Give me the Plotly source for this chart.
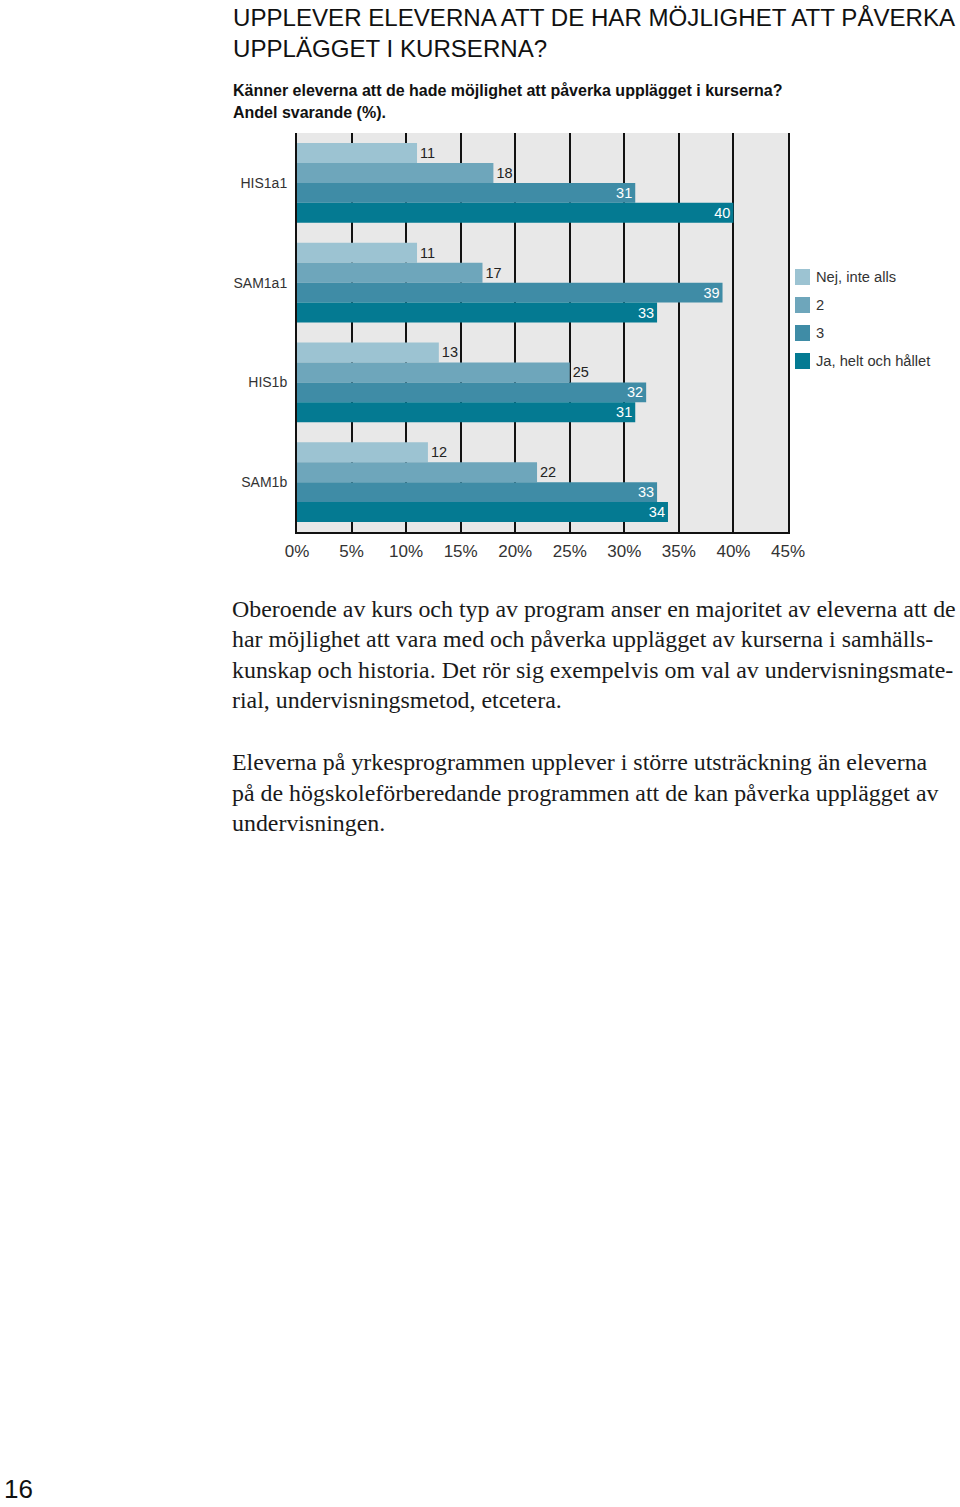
import plotly.graph_objects as go

categories = ["HIS1a1", "SAM1a1", "HIS1b", "SAM1b"]
series_names = ["Nej, inte alls", "2", "3", "Ja, helt och hållet"]
nej = [11, 11, 13, 12]
s2 = [18, 17, 25, 22]
s3 = [31, 39, 32, 33]
ja = [40, 33, 31, 34]
tick_vals = [0, 5, 10, 15, 20, 25, 30, 35, 40, 45]
tick_text = ["0%", "5%", "10%", "15%", "20%", "25%", "30%", "35%", "40%", "45%"]

colors = ["#9cc3d2", "#6ea6bb", "#3f8ca6", "#047a92"]
series_values = [nej, s2, s3, ja]

W, H = 960, 1507
L, R, T, B = 297, 788, 133, 532

def px(x):
    return (x - L) / (R - L)

def py(y):
    return (B - y) / (B - T)

SANS = "Liberation Sans, Arial, sans-serif"
SERIF = "Liberation Serif, Times New Roman, serif"

fig = go.Figure()
for i, (name, vals) in enumerate(zip(series_names, series_values)):
    outside = i < 2
    fig.add_trace(go.Bar(
        y=categories, x=vals, orientation="h", name=name,
        marker=dict(color=colors[i], line=dict(width=0)),
        text=[str(v) for v in vals],
        textposition="outside" if outside else "inside",
        insidetextanchor="end",
        textangle=0,
        constraintext="none",
        textfont=dict(family=SANS, size=14.5, color="#222222" if outside else "#ffffff"),
        cliponaxis=False,
        showlegend=False,
    ))

fig.update_layout(
    width=W, height=H,
    margin=dict(l=L, r=W - R, t=T, b=H - B, pad=0),
    paper_bgcolor="white", plot_bgcolor="#e8e8e8",
    barmode="group", bargap=0.2, bargroupgap=0,
    xaxis=dict(range=[0, 45], tickvals=tick_vals, ticktext=tick_text,
               showgrid=True, gridcolor="#111111", gridwidth=2,
               zeroline=False, showline=True, linecolor="#111111", linewidth=2,
               ticks="", ticklabelstandoff=3,
               tickfont=dict(family=SANS, size=17, color="#333333"), fixedrange=True),
    yaxis=dict(autorange="reversed", showgrid=False, zeroline=False,
               showline=True, linecolor="#111111", linewidth=2, mirror=True,
               ticks="", ticklabelstandoff=5,
               tickfont=dict(family=SANS, size=14, color="#333333")),
    showlegend=False,
)

anns = []
def text(x, y, s, size, family, color="#111111", bold=False):
    if bold:
        s = "<b>" + s + "</b>"
    anns.append(dict(x=px(x), y=py(y), xref="paper", yref="paper", text=s,
                     showarrow=False, xanchor="left", yanchor="middle",
                     font=dict(family=family, size=size, color=color)))

text(231, 18, "UPPLEVER ELEVERNA ATT DE HAR MÖJLIGHET ATT PÅVERKA", 24.1, SANS)
text(231, 48, "UPPLÄGGET I KURSERNA?", 24.1, SANS)
text(231, 91, "Känner eleverna att de hade möjlighet att påverka upplägget i kurserna?", 16, SANS, bold=True)
text(231, 112, "Andel svarande (%).", 16, SANS, bold=True)

body1 = ["Oberoende av kurs och typ av program anser en majoritet av eleverna att de",
         "har möjlighet att vara med och påverka upplägget av kurserna i samhälls-",
         "kunskap och historia. Det rör sig exempelvis om val av undervisningsmate-",
         "rial, undervisningsmetod, etcetera."]
body2 = ["Eleverna på yrkesprogrammen upplever i större utsträckning än eleverna",
         "på de högskoleförberedande programmen att de kan påverka upplägget av",
         "undervisningen."]
for k, line in enumerate(body1):
    text(230, 609 + k * 30.3, line, 23.9, SERIF, color="#1a1a1a")
for k, line in enumerate(body2):
    text(230, 762 + k * 30.5, line, 23.9, SERIF, color="#1a1a1a")

text(2, 1489, "16", 26, SANS, color="#111111")

# legend (manual)
shapes = []
leg_y = [277, 305, 333, 361]
for name, c, yy in zip(series_names, colors, leg_y):
    shapes.append(dict(type="rect", xref="paper", yref="paper",
                       x0=px(795), x1=px(810), y0=py(yy + 8), y1=py(yy - 8),
                       fillcolor=c, line=dict(width=0)))
    text(814, yy, name, 14.7, SANS, color="#333333")

fig.update_layout(annotations=anns, shapes=shapes)
fig.write_html("out.html")
